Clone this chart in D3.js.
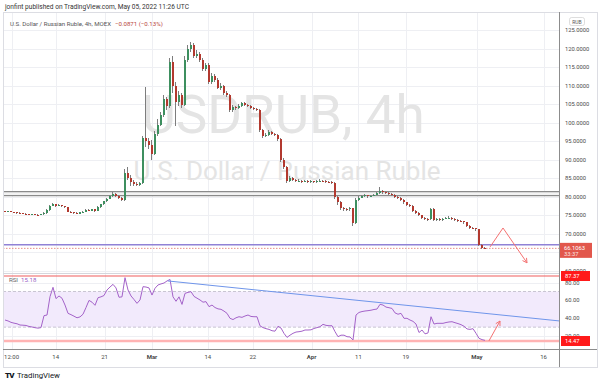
<!DOCTYPE html>
<html><head><meta charset="utf-8">
<script src="https://cdn.jsdelivr.net/npm/d3@7"></script>
<style>html,body{margin:0;padding:0;background:#fff;}svg{display:block;font-family:Roboto,"Liberation Sans",sans-serif;}</style>
</head><body>
<svg id="c" width="600" height="382"></svg>
<script>
// ---------- DATA ----------
const dateTicks = ["12:00","14","21","Mar","14","22","Apr","11","19","May","16"];
const dateTickBars = [2.2,16.9,33.2,49,67.6,82.6,102.2,117.8,133.6,157.3,179.5];
const dateTickBold = [false,false,false,true,false,false,true,false,false,true,false];
const priceTicks = [125,120,115,110,105,100,95,90,85,80,75,70,65,60];
const priceTickLabels = priceTicks.map(v => v.toFixed(4));
const rsiTicks = [80,60,40,20];

const firstOpen = 76.1;
const closes = [
76.0,76.1,75.9,75.8,75.7,75.6,75.5,75.4,75.3,75.3,
75.2,75.1,75.3,75.6,76.4,77.6,78.0,77.6,77.8,77.4,
77.2,76.0,75.8,75.6,75.5,75.8,76.0,76.5,76.3,76.6,
76.2,77.2,78.0,78.8,79.5,80.1,80.8,80.3,79.7,79.2,
86.5,85.0,84.0,83.4,83.2,83.6,95.8,95.0,94.0,91.5,
97.0,99.5,102.0,106.5,104.5,116.5,110.0,105.5,107.5,104.8,
117.0,120.0,121.0,118.0,118.5,117.0,114.5,115.5,111.0,112.5,
111.5,109.4,110.0,108.0,107.5,103.5,104.2,104.0,104.5,105.2,
104.8,104.5,104.0,103.8,103.5,98.0,96.5,96.8,97.5,97.0,
96.8,95.5,90.0,88.0,84.2,85.0,84.5,84.3,84.4,84.1,
84.3,84.0,84.2,84.0,84.2,84.4,84.3,84.1,84.0,83.8,
80.0,78.5,77.0,76.8,76.6,76.9,72.9,79.2,79.8,80.2,
80.4,80.1,80.3,80.6,81.0,81.6,81.2,81.0,80.8,80.5,
80.0,79.8,79.2,78.5,77.9,77.6,76.2,75.6,75.0,74.4,
74.1,73.9,76.7,73.8,74.0,73.8,74.1,74.3,74.4,74.0,
73.8,73.6,73.4,73.1,72.2,71.6,71.5,71.2,67.0,66.3,66.1];
const highs = [
76.3,76.3,76.2,76.0,75.9,75.8,75.7,75.6,75.5,75.5,
75.4,75.3,75.5,75.8,76.6,77.8,78.4,78.2,78.0,77.9,
77.6,77.3,76.2,75.9,75.8,76.0,76.2,76.8,76.7,76.8,
76.7,77.4,78.2,79.0,79.8,80.4,81.3,81.0,80.5,79.9,
87.5,88.0,86.0,84.6,83.9,84.0,96.5,109.5,96.0,95.2,
97.8,101.0,103.0,107.5,107.0,117.5,118.0,111.0,108.5,108.0,
118.0,121.0,121.8,121.5,119.5,119.0,117.5,116.0,116.0,113.5,
113.0,112.0,110.8,110.2,108.5,107.8,104.8,104.6,105.0,105.6,
105.5,105.0,104.7,104.2,104.0,103.8,98.3,97.3,98.0,97.8,
97.2,97.0,95.8,90.5,88.3,85.5,85.3,84.8,84.7,84.6,
84.6,84.5,84.5,84.4,84.5,84.7,84.6,84.5,84.3,84.2,
84.0,80.3,78.8,77.3,77.0,77.2,77.1,79.6,80.2,80.5,
80.7,80.6,80.6,80.9,81.3,82.6,81.9,81.5,81.2,81.0,
80.7,80.2,80.0,79.4,78.7,78.1,77.8,76.4,75.8,75.2,
74.6,74.3,77.0,76.9,74.3,74.2,74.4,74.6,74.7,74.6,
74.2,74.0,73.8,73.6,73.3,72.4,71.9,71.7,71.4,67.2,66.5];
const lows = [
75.8,75.9,75.8,75.6,75.5,75.4,75.3,75.2,75.1,75.1,
75.0,74.9,75.0,75.2,75.5,76.3,77.4,77.3,77.4,77.2,
77.0,75.8,75.6,75.4,75.3,75.4,75.7,75.9,76.1,76.2,
76.0,76.1,77.0,77.8,78.6,79.3,79.9,80.0,79.5,79.0,
79.0,84.5,83.0,82.8,82.9,83.0,83.4,93.5,93.0,90.0,
91.2,96.5,99.0,101.5,103.5,104.0,108.0,99.0,104.5,104.0,
104.5,116.5,119.0,117.5,117.5,116.5,114.0,114.0,110.5,110.5,
111.0,109.0,108.8,107.5,107.0,103.0,103.0,103.5,103.8,104.3,
104.5,104.2,103.7,103.5,103.2,97.5,96.0,96.2,96.5,96.6,
96.4,95.0,89.5,87.5,83.8,84.0,84.2,84.0,84.1,83.8,
83.9,83.7,83.8,83.7,83.8,84.0,84.0,83.8,83.7,83.4,
79.5,77.8,76.5,76.3,76.2,76.3,72.2,72.6,79.0,79.6,
80.0,79.8,79.9,80.1,80.4,80.8,80.9,80.7,80.5,80.2,
79.7,79.4,78.9,78.2,77.5,77.2,75.9,75.3,74.7,74.1,
73.8,73.5,73.7,73.5,73.6,73.5,73.6,73.9,74.1,73.8,
73.5,73.3,73.1,72.8,71.9,71.3,71.2,70.9,66.7,66.0,65.9];
const rsiValues = [
38.0,37.0,35.4,34.5,33.8,32.4,32.2,31.9,30.8,30.2,
29.4,28.9,29.5,42.9,43.6,64.2,74.7,62.0,65.0,62.4,
54.8,45.5,44.0,42.3,40.5,41.5,44.5,52.0,60.0,58.0,
54.5,63.0,64.0,65.5,71.7,75.0,78.0,74.0,63.5,64.0,
85.5,71.7,65.0,61.0,56.7,60.5,75.4,75.0,74.0,66.0,
73.6,77.3,78.5,79.5,81.8,83.5,64.0,59.0,64.0,55.5,
67.9,69.0,69.8,64.5,62.5,60.5,58.0,58.6,53.0,54.8,
52.0,50.5,50.0,48.0,45.5,39.9,38.5,40.5,41.7,41.0,
42.5,43.6,42.0,41.7,41.7,31.5,29.5,28.3,27.5,26.0,
25.5,31.0,29.0,23.0,18.5,21.0,23.1,24.5,24.9,25.5,
26.8,26.8,27.0,28.5,29.5,30.5,33.2,32.0,31.6,31.6,
25.0,19.3,21.0,21.0,19.3,19.0,15.6,43.6,46.5,47.5,
48.1,48.5,49.0,49.8,50.3,55.6,54.8,52.5,51.8,51.0,
46.0,44.5,45.5,39.9,39.9,38.0,36.5,33.5,24.0,26.8,
22.5,23.5,41.7,33.5,34.3,34.3,34.3,35.2,35.8,36.1,
35.0,34.0,32.8,31.0,28.0,27.5,28.3,23.1,17.5,16.0,15.18];

const grayLevels = [81.43, 80.35];
const purpleLevel = 67.06;
const lastPrice = 66.1063;
const lastPriceLabel = "66.1063";
const countdownLabel = "33:37";
const rsiUpper = 70, rsiLower = 30;
const rsiMax = 87.37, rsiMin = 14.47, rsiLast = 15.18;
const arrowMain = [[161.7,66.5],[166,71.6],[174,62.2]];
const arrowRsi = [[161.3,14.5],[165,36.9]];
const rsiTrend = [[54.3,81.8],[184.7,37.0]];

// ---------- LAYOUT ----------
const L = 3, R = 559, mainTop = 12, mainBot = 273, rsiBot = 349, boxR = 597, boxB = 367;
const svg = d3.select("#c");
const x = d3.scaleLinear().domain([0,160]).range([5,485]);
const y = d3.scaleLinear().domain([60,125]).range([271,30]);
const yr = d3.scaleLinear().domain([rsiMin, rsiMax]).range([341,276]);

const defs = svg.append("defs");
defs.append("clipPath").attr("id","cm").append("rect").attr("x",L).attr("y",mainTop).attr("width",R-L).attr("height",mainBot-mainTop);
defs.append("clipPath").attr("id","cr").append("rect").attr("x",L).attr("y",mainBot).attr("width",R-L).attr("height",rsiBot-mainBot);

svg.append("rect").attr("width",600).attr("height",382).attr("fill","#fff");

// grid
const grid = svg.append("g").attr("stroke","#eeeff3").attr("stroke-width",1).attr("shape-rendering","crispEdges");
dateTickBars.forEach(b => {
  const px = Math.round(x(b))+0.5;
  if (px < R) grid.append("line").attr("x1",px).attr("x2",px).attr("y1",mainTop).attr("y2",rsiBot);
});
priceTicks.forEach(v => { const py = Math.round(y(v))+0.5; if (py>mainTop && py<mainBot) grid.append("line").attr("x1",L).attr("x2",R).attr("y1",py).attr("y2",py); });
rsiTicks.forEach(v => { const py = Math.round(yr(v))+0.5; grid.append("line").attr("x1",L).attr("x2",R).attr("y1",py).attr("y2",py); });

// watermark
const wm = svg.append("g").attr("clip-path","url(#cm)").attr("fill","#e4e4e4").attr("text-anchor","middle");
wm.append("text").attr("x",283).attr("y",133).attr("font-size",53).text("USDRUB, 4h");
wm.append("text").attr("x",287).attr("y",180).attr("font-size",26).text("U.S. Dollar / Russian Ruble");

// main pane
const gm = svg.append("g").attr("clip-path","url(#cm)");
gm.append("rect").attr("x",L).attr("width",R-L).attr("y",y(grayLevels[0])).attr("height",y(grayLevels[1])-y(grayLevels[0])).attr("fill","#f2f2f2");
grayLevels.forEach(v => gm.append("line").attr("x1",L).attr("x2",R).attr("y1",y(v)).attr("y2",y(v)).attr("stroke","#8a8a8a").attr("stroke-width",1.2));
gm.append("line").attr("x1",L).attr("x2",R).attr("y1",y(purpleLevel)).attr("y2",y(purpleLevel)).attr("stroke","#9082d6").attr("stroke-width",1.4);
gm.append("line").attr("x1",L).attr("x2",R).attr("y1",y(lastPrice)).attr("y2",y(lastPrice)).attr("stroke","#e0736a").attr("stroke-width",0.8).attr("stroke-dasharray","1.5,1.5");

const candles = closes.map((c,i) => ({i, o: i ? closes[i-1] : firstOpen, c, h: highs[i], l: lows[i]}));
const cg = gm.append("g").attr("shape-rendering","crispEdges");
cg.selectAll("line.w").data(candles).join("line").attr("class","w")
  .attr("x1",d => Math.round(x(d.i))-0.5).attr("x2",d => Math.round(x(d.i))-0.5)
  .attr("y1",d => y(d.h)).attr("y2",d => y(d.l)).attr("stroke","#7d7d7d").attr("stroke-width",1);
cg.selectAll("rect.b").data(candles).join("rect").attr("class","b")
  .attr("x",d => Math.round(x(d.i))-1).attr("width",2)
  .attr("y",d => y(Math.max(d.o,d.c))).attr("height",d => Math.max(1, Math.abs(y(d.o)-y(d.c))))
  .attr("fill",d => d.c >= d.o ? "#3d8f5f" : "#b2392f");

// RSI pane
const gr = svg.append("g").attr("clip-path","url(#cr)");
gr.append("rect").attr("x",L).attr("width",R-L).attr("y",yr(rsiUpper)).attr("height",yr(rsiLower)-yr(rsiUpper)).attr("fill","#f2eafc");
[rsiUpper, rsiLower].forEach(v => gr.append("line").attr("x1",L).attr("x2",R).attr("y1",yr(v)).attr("y2",yr(v)).attr("stroke","#c9c5d2").attr("stroke-width",1).attr("stroke-dasharray","3,2"));
gr.append("line").attr("x1",L).attr("x2",R).attr("y1",yr(rsiMax)).attr("y2",yr(rsiMax)).attr("stroke","#ef5d5d").attr("stroke-width",1.2);
gr.append("line").attr("x1",L).attr("x2",R).attr("y1",yr(rsiMin)).attr("y2",yr(rsiMin)).attr("stroke","#ffb4b4").attr("stroke-width",2.6);
gr.append("path").datum(rsiValues).attr("fill","none").attr("stroke","#a463c9").attr("stroke-width",1)
  .attr("d", d3.line().x((d,i) => x(i)).y(d => yr(d)));
gr.append("path").datum(rsiTrend).attr("fill","none").attr("stroke","#6f95ea").attr("stroke-width",1)
  .attr("d", d3.line().x(d => x(d[0])).y(d => yr(d[1])));

// arrows
function arrow(g, pts, ys) {
  const p = pts.map(d => [x(d[0]), ys(d[1])]);
  g.append("path").attr("fill","none").attr("stroke","#f47272").attr("stroke-width",1).attr("d", d3.line()(p));
  const a = p[p.length-2], b = p[p.length-1];
  const ang = Math.atan2(b[1]-a[1], b[0]-a[0]), s = 5;
  const h1 = [b[0]-s*Math.cos(ang-0.5), b[1]-s*Math.sin(ang-0.5)];
  const h2 = [b[0]-s*Math.cos(ang+0.5), b[1]-s*Math.sin(ang+0.5)];
  g.append("path").attr("fill","none").attr("stroke","#f47272").attr("stroke-width",1).attr("d", d3.line()([h1,b,h2]));
}
arrow(svg.append("g"), arrowMain, y);
arrow(svg.append("g"), arrowRsi, yr);

// frame and separators
const fr = svg.append("g").attr("stroke","#dcdde3").attr("fill","none").attr("shape-rendering","crispEdges");
fr.append("rect").attr("x",L+0.5).attr("y",mainTop+0.5).attr("width",boxR-L).attr("height",boxB-mainTop);
fr.append("line").attr("x1",L).attr("x2",R).attr("y1",mainBot+0.5).attr("y2",mainBot+0.5).attr("stroke","#d5d6dc");
svg.append("line").attr("x1",L).attr("x2",boxR).attr("y1",rsiBot+0.5).attr("y2",rsiBot+0.5).attr("stroke","#8c8c8c").attr("shape-rendering","crispEdges");
svg.append("line").attr("x1",R+0.5).attr("x2",R+0.5).attr("y1",mainTop).attr("y2",boxB).attr("stroke","#8c8c8c").attr("shape-rendering","crispEdges");

// price axis labels (hidden where the last-price tag sits, as the platform does)
const lpY = y(lastPrice);
const pa = svg.append("g").attr("font-size",5.8).attr("fill","#4a4a4a");
priceTicks.forEach((v,k) => {
  const py = y(v);
  if (py > 26 && py < mainBot + 3 && Math.abs(py - (lpY + 2)) > 10)
    pa.append("text").attr("x",565).attr("y",py+2).text(priceTickLabels[k]);
});
rsiTicks.forEach(v => pa.append("text").attr("x",565).attr("y",yr(v)+2).text(v.toFixed(2)));

// RUB box
svg.append("rect").attr("x",569.5).attr("y",17.5).attr("width",15).attr("height",8).attr("rx",2).attr("fill","#fff").attr("stroke","#d0d0d0").attr("stroke-width",0.7);
svg.append("text").attr("x",577).attr("y",23.5).attr("text-anchor","middle").attr("font-size",5).attr("fill","#555").text("RUB");

// last price tag
svg.append("rect").attr("x",560).attr("y",lpY-5.5).attr("width",32).attr("height",15).attr("fill","#e2574c");
svg.append("text").attr("x",564).attr("y",lpY+2).attr("font-size",5.8).attr("fill","#fff").text(lastPriceLabel);
svg.append("text").attr("x",564).attr("y",lpY+7.8).attr("font-size",5.8).attr("fill","#fbe3e0").text(countdownLabel);

// RSI tags
[[rsiMax, rsiMax.toFixed(2)],[rsiMin, rsiMin.toFixed(2)]].forEach(([v,t]) => {
  const py = yr(v);
  svg.append("rect").attr("x",561).attr("y",py-5).attr("width",29).attr("height",10).attr("fill","#ff1a1a");
  svg.append("text").attr("x",565).attr("y",py+2).attr("font-size",5.8).attr("fill","#fff").text(t);
});

// time axis
const ta = svg.append("g").attr("font-size",6).attr("fill","#4a4a4a").attr("text-anchor","middle");
dateTicks.forEach((t,k) => {
  const px = x(dateTickBars[k]);
  ta.append("text").attr("x",px).attr("y",359).attr("font-weight",dateTickBold[k] ? "bold" : "normal").text(t);
});

// headers
svg.append("text").attr("x",5).attr("y",9).attr("font-size",6.6).attr("fill","#333").text("jonfint published on TradingView.com, May 05, 2022 11:26 UTC");
const sub = svg.append("text").attr("x",10).attr("y",25.5).attr("font-size",6.1).attr("fill","#555");
sub.append("tspan").text("U.S. Dollar / Russian Ruble, 4h, MOEX");
sub.append("tspan").attr("dx",4).attr("fill","#b8453b").text("\u22120.0871 (\u22120.13%)");
const leg = svg.append("text").attr("x",9).attr("y",282).attr("font-size",6.1).attr("fill","#666");
leg.append("tspan").text("RSI");
leg.append("tspan").attr("dx",3).attr("fill","#9b5fc6").text(rsiLast.toFixed(2));

// logo
svg.append("text").attr("x",5).attr("y",378).attr("font-size",8).attr("font-weight",900).attr("fill","#131722").attr("letter-spacing",-0.8).text("TV");
svg.append("text").attr("x",17).attr("y",378).attr("font-size",7.8).attr("fill","#131722").text("TradingView");
</script>
</body></html>
